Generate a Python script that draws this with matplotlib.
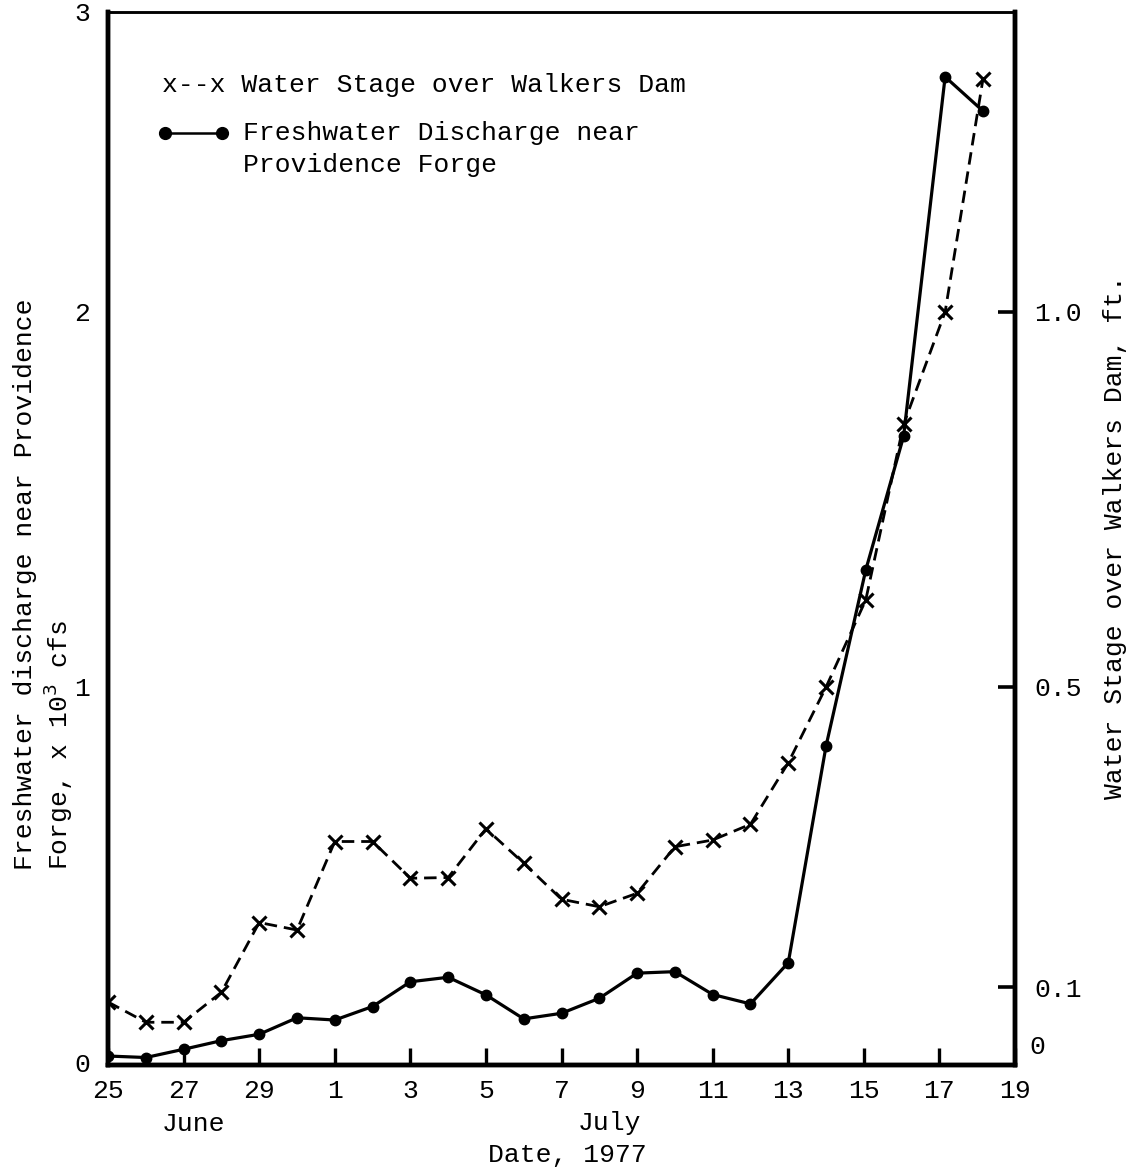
import matplotlib
matplotlib.use("Agg")
import matplotlib.pyplot as plt

plt.rcParams['font.family'] = ['Liberation Mono', 'DejaVu Sans Mono']

# Days counted from June 25, 1977
days = [0, 1, 2, 3, 4, 5, 6, 7, 8, 9, 10, 11, 12, 13, 14, 15, 16, 17, 18, 19,
        20.05, 21.05, 22.15, 23.15]

# Freshwater discharge near Providence Forge, x 10^3 cfs
discharge = [0.016, 0.012, 0.034, 0.057, 0.074, 0.118, 0.112, 0.148, 0.214, 0.226,
             0.179, 0.115, 0.130, 0.170, 0.237, 0.241, 0.180, 0.155, 0.265, 0.843,
             1.312, 1.668, 2.627, 2.536]

# Water stage over Walkers Dam, ft
stage = [0.080, 0.053, 0.053, 0.093, 0.186, 0.176, 0.294, 0.294, 0.245, 0.246,
         0.311, 0.265, 0.217, 0.207, 0.225, 0.287, 0.296, 0.317, 0.399, 0.500,
         0.616, 0.850, 1.000, 1.310]

xtick_pos = [0, 2, 4, 6, 8, 10, 12, 14, 16, 18, 20, 22, 24]
xtick_labels = ['25', '27', '29', '1', '3', '5', '7', '9', '11', '13', '15', '17', '19']

fs = 19
fig = plt.figure(figsize=(11.41, 11.71), dpi=100)
ax = fig.add_axes([0.0947, 0.0905, 0.7949, 0.8993])

ylo, yhi = -0.008, 2.80
ax.set_xlim(0, 24)
ax.set_ylim(ylo, yhi)

ax.plot(days, discharge, color='black', lw=2.3, marker='o', ms=7.5, zorder=3)

ax2 = ax.twinx()
ax2.set_ylim(ylo / 2, yhi / 2)
ax2.plot(days, stage, color='black', lw=2.0, ls=(0, (4.5, 2.5)), marker='x',
         ms=10, mew=2.2, zorder=3)

# Spines
for name, lw in [('left', 3.2), ('bottom', 3.2), ('right', 3.2), ('top', 1.8)]:
    ax.spines[name].set_linewidth(lw)
    ax2.spines[name].set_linewidth(lw)

# Left axis: labels only
ax.set_yticks([0, 1, 2, yhi])
ax.set_yticklabels(['0', '1', '2', '3'])
ax.tick_params(axis='y', length=0, pad=13, labelsize=fs)

# Bottom axis: inward ticks
ax.set_xticks(xtick_pos)
ax.set_xticklabels(xtick_labels)
ax.tick_params(axis='x', direction='in', length=12, width=2.4, pad=10, labelsize=fs)

# Right axis: inward ticks at 1.0, 0.5, 0.1 plus an unticked zero
ax2.set_yticks([0.1, 0.5, 1.0])
ax2.set_yticklabels(['0.1', '0.5', '1.0'])
ax2.tick_params(axis='y', direction='in', length=12, width=2.6, pad=14, labelsize=fs)
ax2.text(1.016, 0.004, '0', transform=ax2.get_yaxis_transform(), ha='left', va='bottom',
         fontsize=fs)

# Legend drawn as text
ax.text(0.0595, 0.9307, 'x--x Water Stage over Walkers Dam', transform=ax.transAxes,
        fontsize=fs, va='center', ha='left')
ax.plot([0.0625, 0.1257], [0.885, 0.885], transform=ax.transAxes, color='black',
        lw=1.8, marker='o', ms=8.5, clip_on=False)
ax.text(0.149, 0.885, 'Freshwater Discharge near', transform=ax.transAxes,
        fontsize=fs, va='center', ha='left')
ax.text(0.149, 0.8547, 'Providence Forge', transform=ax.transAxes,
        fontsize=fs, va='center', ha='left')

# Axis titles
fig.text(25 / 1141, 1 - 870 / 1171, 'Freshwater discharge near Providence',
         rotation=90, rotation_mode='anchor', ha='left', va='center', fontsize=fs)
fig.text(58 / 1141, 1 - 870 / 1171, r'Forge, x 10$^{3}$ cfs',
         rotation=90, rotation_mode='anchor', ha='left', va='center', fontsize=fs)
fig.text(1115 / 1141, 1 - 537 / 1171, 'Water Stage over Walkers Dam, ft.',
         rotation=90, ha='center', va='center', fontsize=fs)

fig.text(193 / 1141, 1 - 1124 / 1171, 'June', ha='center', va='center', fontsize=fs)
fig.text(609 / 1141, 1 - 1123 / 1171, 'July', ha='center', va='center', fontsize=fs)
fig.text(567 / 1141, 1 - 1155 / 1171, 'Date, 1977', ha='center', va='center', fontsize=fs)

fig.savefig('out.png', dpi=100, facecolor='white')
